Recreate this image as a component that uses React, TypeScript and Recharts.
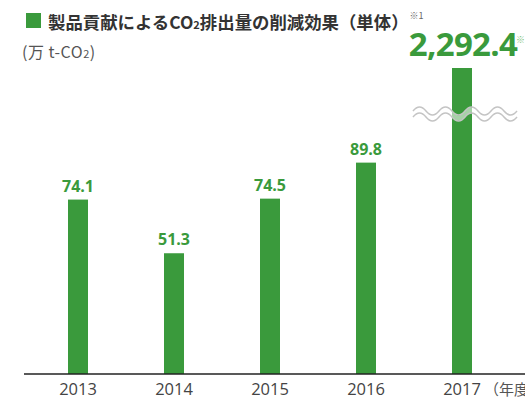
import { BarChart, Bar, XAxis, YAxis, LabelList } from 'recharts';

const YEARS = ['2013', '2014', '2015', '2016', '2017'];
const VALUES = [74.1, 51.3, 74.5, 89.8, 2292.4];
const VALUE_LABELS = ['74.1', '51.3', '74.5', '89.8', '2,292.4'];
// axis is broken above this value
const AXIS_CAP = 130;

const GREEN = '#3a9a3c';
const NUM_FONT = '"Open Sans", "Noto Sans", sans-serif';
const JP_FONT = '"Noto Sans CJK JP", "Noto Sans", sans-serif';

const data = YEARS.map((year, i) => ({
  year,
  value: VALUES[i],
  shown: Math.min(VALUES[i], AXIS_CAP),
  label: VALUE_LABELS[i],
  broken: VALUES[i] > AXIS_CAP
}));

function wavePath(x0: number, x1: number, y: number) {
  let d = `M${x0},${y}`;
  let up = true;
  for (let x = x0; x < x1; x += 13) {
    d += ` Q${x + 6.5},${up ? y - 8 : y + 8} ${x + 13},${y}`;
    up = !up;
  }
  return d;
}

const BarShape = (props: any) => {
  const { x, y, width, height, payload } = props;
  return (
    <g>
      <rect x={x} y={y} width={width} height={height} fill={GREEN} />
      {payload.broken && (
        <g fill="none">
          <path d={wavePath(x - 39, x + 64, y + 46)} stroke="#fff" strokeOpacity={0.55} strokeWidth={5} />
          <path d={wavePath(x - 39, x + 64, y + 43)} stroke="#c4c4c4" strokeWidth={1.5} />
          <path d={wavePath(x - 39, x + 64, y + 49)} stroke="#c4c4c4" strokeWidth={1.5} />
        </g>
      )}
    </g>
  );
};

const ValueLabel = (props: any) => {
  const { x, y, width, index } = props;
  const d = data[index];
  const cx = x + width / 2;
  if (d.broken) {
    return (
      <g>
        <text x={cx + 1} y={y - 12} textAnchor="middle" fill={GREEN} fontSize={33} fontWeight={700}
          fontFamily={NUM_FONT} letterSpacing={-0.7}>
          {d.label}
        </text>
        <text x={cx + 54} y={y - 25} textAnchor="start" fill="#7cc47c" fontSize={9} fontFamily={JP_FONT}>※</text>
      </g>
    );
  }
  return (
    <text x={cx} y={y - 8} textAnchor="middle" fill={GREEN} fontSize={16} fontWeight={700} fontFamily={NUM_FONT}>
      {d.label}
    </text>
  );
};

const YearTick = (props: any) => {
  const { x, y, payload, index } = props;
  const last = index === YEARS.length - 1;
  return (
    <g>
      <text x={x} y={y + 13} textAnchor="middle" fill="#444" fontSize={16.5} fontFamily={NUM_FONT}>
        {payload.value}
      </text>
      {last && (
        <text x={x + 22} y={y + 13} textAnchor="start" fill="#555" fontSize={15} fontFamily={JP_FONT}>
          （年度）
        </text>
      )}
    </g>
  );
};

export default function App() {
  return (
    <div style={{ position: 'absolute', left: 0, top: 0, width: 525, height: 401, background: '#fff' }}>
      <div style={{ position: 'absolute', left: 26, top: 13, width: 15, height: 15, background: GREEN }} />
      <div style={{
        position: 'absolute', left: 48, top: 8, fontFamily: JP_FONT, fontSize: 17.4, fontWeight: 700,
        color: '#333', whiteSpace: 'nowrap', lineHeight: '28px'
      }}>
        製品貢献によるCO<span style={{ fontSize: 11 }}>2</span>排出量の削減効果（単体）<span style={{ fontSize: 9, fontWeight: 400, color: '#666', verticalAlign: 'top', lineHeight: '16px', marginLeft: 1 }}>※1</span>
      </div>
      <div style={{
        position: 'absolute', left: 22, top: 39, fontFamily: JP_FONT, fontSize: 16,
        color: '#555', whiteSpace: 'nowrap', lineHeight: '24px', letterSpacing: 0.5
      }}>
        (万 t-CO<span style={{ fontSize: 11 }}>2</span>)
      </div>
      <div style={{ position: 'absolute', left: 0, top: 0 }}>
        <BarChart width={525} height={401} data={data} margin={{ top: 68, right: 0, bottom: 0, left: 24 }}>
          <XAxis
            dataKey="year"
            height={27}
            padding={{ left: 6, right: 15 }}
            axisLine={{ stroke: '#222', strokeWidth: 1.5 }}
            tickLine={false}
            tick={<YearTick />}
            interval={0}
          />
          <YAxis hide width={0} domain={[0, AXIS_CAP]} />
          <Bar dataKey="shown" barSize={20} shape={<BarShape />} isAnimationActive={false}>
            <LabelList dataKey="shown" content={<ValueLabel />} />
          </Bar>
        </BarChart>
      </div>
    </div>
  );
}
